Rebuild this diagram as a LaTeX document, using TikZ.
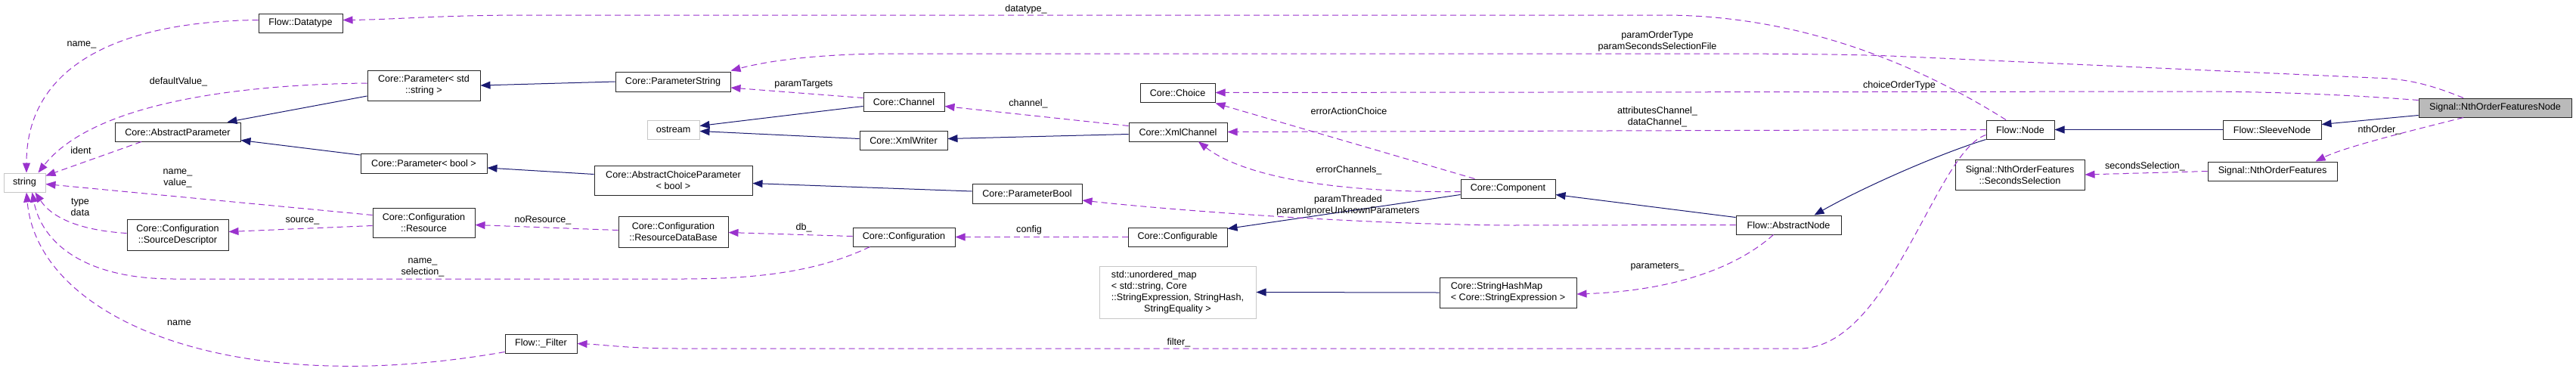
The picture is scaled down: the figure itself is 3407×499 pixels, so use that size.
\documentclass[tikz,border=0pt]{standalone}
\usepackage{fontspec}
\setmainfont{Liberation Sans}
\usepackage{tikz}
\usetikzlibrary{arrows.meta,calc}
\definecolor{inhblue}{HTML}{191970}
\definecolor{usepurple}{HTML}{9A32CD}
\newcommand{\classfont}{\fontsize{12.6}{15}\selectfont}

\begin{document}
\begin{tikzpicture}[x=1pt,y=-1pt,>={Triangle[length=13pt,width=10pt]},font=\classfont,
    cls/.style={draw=black!85,line width=1pt,fill=white,inner sep=0pt,minimum height=25,align=center},
    extcls/.style={cls,draw=black!22},
    maincls/.style={cls,fill=black!27},
    inh/.style={->,draw=inhblue,line width=1pt},
    use/.style={->,draw=usepurple,line width=1pt,dash pattern=on 8pt off 5pt},
    lbl/.style={inner sep=0pt,align=center}]

\useasboundingbox (0,0) rectangle (3407,499);

% classes, left part
\node[extcls,minimum width=55] (str) at (32.5,241.5) {string};

\node[cls,minimum width=111] (dtype) at (397.5,30.5) {Flow::Datatype};

\node[cls,minimum width=166] (aparam) at (235,174.5) {Core::AbstractParameter};

\node[cls,minimum width=134,minimum height=41] (srcd) at (235,310.5)
    {Core::Configuration\\::SourceDescriptor};

\node[cls,minimum width=149,minimum height=40] (pstd) at (560.5,113)
    {Core::Parameter< std\\::string >};

\node[cls,minimum width=167,minimum height=26] (pbool) at (560.5,216) {Core::Parameter< bool >};

\node[cls,minimum width=135,minimum height=39] (res) at (560.5,294.5)
    {Core::Configuration\\::Resource};

\node[cls,minimum width=152,minimum height=26] (pstring) at (890,108) {Core::ParameterString};

\node[extcls,minimum width=69] (ostr) at (890.5,171.5) {ostream};

\node[cls,minimum width=209,minimum height=39] (acp) at (890.5,238.5)
    {Core::AbstractChoiceParameter\\< bool >};

\node[cls,minimum width=145,minimum height=41] (rdb) at (890.5,306.5)
    {Core::Configuration\\::ResourceDataBase};

\node[cls,minimum width=95] (filter) at (715.5,454.5) {Flow::\_Filter};

% classes, middle part
\node[cls,minimum width=107] (chan) at (1195.5,134.5) {Core::Channel};

\node[cls,minimum width=116] (xwriter) at (1195,185.5) {Core::XmlWriter};

\node[cls,minimum width=135] (config) at (1195.5,313.5) {Core::Configuration};

\node[cls,minimum width=145,minimum height=26] (pboolc) at (1358.5,256) {Core::ParameterBool};

\node[cls,minimum width=99] (choice) at (1557.5,122.5) {Core::Choice};

\node[cls,minimum width=130] (xchan) at (1558,174.5) {Core::XmlChannel};

\node[cls,minimum width=131] (cfgable) at (1557.5,313.5) {Core::Configurable};

\node[extcls,minimum width=207,minimum height=69] (umap) at (1557.5,386.5)
    {\begin{tabular}{@{}l@{}}std::unordered\_map\\< std::string, Core\\::StringExpression, StringHash,\\
     \multicolumn{1}{@{}c@{}}{StringEquality >}\end{tabular}};

\node[cls,minimum width=125] (comp) at (1994.5,249.5) {Core::Component};

\node[cls,minimum width=181,minimum height=40,align=left] (shm) at (1994.5,387)
    {Core::StringHashMap\\< Core::StringExpression >};

% classes, right part
\node[cls,minimum width=139] (anode) at (2365.5,297.5) {Flow::AbstractNode};

\node[cls,minimum width=90] (fnode) at (2672,171.5) {Flow::Node};

\node[cls,minimum width=171,minimum height=40] (secsel) at (2671.5,231)
    {Signal::NthOrderFeatures\\::SecondsSelection};

\node[cls,minimum width=130] (sleeve) at (3005,171.5) {Flow::SleeveNode};

\node[cls,minimum width=171] (nof) at (3005.5,226.5) {Signal::NthOrderFeatures};

\node[maincls,minimum width=202] (nofn) at (3300,142.5) {Signal::NthOrderFeaturesNode};

% inheritance
\draw[inh] ($(pstd.west)+(0,14)$) -- ($(aparam.north east)+(-18,0)$);

\draw[inh] ($(pbool.west)+(0,-11)$) -- ($(aparam.east)+(0,11)$);

\draw[inh] (pstring.west) -- (pstd.east);

\draw[inh] ($(acp.west)+(0,-8)$) -- ($(pbool.east)+(0,6)$);

\draw[inh] ($(chan.west)+(0,6)$) -- ($(ostr.east)+(0,-5)$);

\draw[inh] ($(xwriter.west)+(0,-2)$) -- ($(ostr.east)+(0,2)$);

\draw[inh] ($(pboolc.west)+(0,-3)$) -- ($(acp.east)+(0,4)$);

\draw[inh] ($(xchan.west)+(0,3)$) -- ($(xwriter.east)+(0,-2)$);

\draw[inh] ($(comp.west)+(0,8)$) -- ($(cfgable.north east)+(0,2)$);

\draw[inh] ($(anode.west)+(0,-10)$) -- ($(comp.east)+(0,8)$);

\draw[inh] (fnode.south west) .. controls (2560,205) and (2460,250) .. ($(anode.north)+(34,0)$);

\draw[inh] (sleeve.west) -- (fnode.east);

\draw[inh] ($(nofn.west)+(0,10)$) -- ($(sleeve.east)+(0,-7)$);

\draw[inh] (shm.west) -- (umap.east);

% members pointing at string
\draw[use] ($(dtype.west)+(0,-4)$) .. controls (170,28) and (35,80) .. ($(str.north)+(2.5,0)$);
\node[lbl] (lname) at (108,59) {name\_};

\draw[use] ($(pstd.west)+(0,-3)$) .. controls (300,112) and (120,140) .. ($(str.north east)+(-10,0)$);
\node[lbl] (ldefault) at (236,108) {defaultValue\_};

\draw[use] ($(aparam.south)+(-48,0)$) -- ($(str.east)+(0,-9)$);
\node[lbl] (lident) at (107,199) {ident};

\draw[use] ($(res.west)+(0,-10)$) -- ($(str.east)+(0,2)$);
\node[lbl] (lnamevalue) at (235,235.5) {name\_\\value\_};

\draw[use] ($(srcd.west)+(0,-2)$) .. controls (110,305) and (70,290) .. ($(str.south east)+(-14,0)$);
\node[lbl] (ltypedata) at (106,274) {type\\data};

\draw[use] ($(config.south west)+(23,0)$) .. controls (1080,360) and (1000,369) .. (900,369)
    -- (230,369) .. controls (110,369) and (55,320) .. ($(str.south east)+(-18,0)$);
\node[lbl] (lselection) at (559,354) {name\_\\selection\_};

\draw[use] ($(filter.south west)+(0,-2)$) .. controls (300,530) and (50,420) .. ($(str.south)+(2.5,0)$);
\node[lbl] (lfname) at (237,427) {name};

% members, left part
\draw[use] ($(res.west)+(0,4)$) -- ($(srcd.east)+(0,-4)$);
\node[lbl] (lsource) at (400,292) {source\_};

\draw[use] ($(rdb.west)+(0,-2)$) -- ($(res.east)+(0,3)$);
\node[lbl] (lnores) at (718,291) {noResource\_};

\draw[use] ($(config.west)+(0,-1)$) -- ($(rdb.east)+(0,1)$);
\node[lbl] (ldb) at (1063,301) {db\_};

\draw[use] ($(chan.west)+(0,-5)$) -- ($(pstring.east)+(0,8)$);
\node[lbl] (ltargets) at (1063,111) {paramTargets};

\draw[use] ($(xchan.west)+(0,-8)$) -- ($(chan.east)+(0,6)$);
\node[lbl] (lchannel) at (1360,137) {channel\_};

\draw[use] (cfgable.west) -- (config.east);
\node[lbl] (lconfig) at (1361,304) {config};

% members of the component and the nodes
\draw[use] ($(comp.north)+(-44,0)$) -- ($(choice.south east)+(0,1)$);
\node[lbl] (lerrchoice) at (1784,147) {errorActionChoice};

\draw[use] ($(comp.west)+(0,4)$) .. controls (1750,255) and (1640,230) .. ($(xchan.south)+(27,0)$);
\node[lbl] (lerrchan) at (1784,225) {errorChannels\_};

\draw[use] (anode.west) -- (2000,298) .. controls (1800,297) and (1550,278) .. ($(pboolc.east)+(0,9)$);
\node[lbl] (lthreaded) at (1783,271.5) {paramThreaded\\paramIgnoreUnknownParameters};

\draw[use] ($(anode.south)+(-20,0)$) .. controls (2290,360) and (2200,385) .. ($(shm.east)+(0,2)$);
\node[lbl] (lparams) at (2192,353) {parameters\_};

\draw[use] (fnode.west) -- (xchan.east);
\node[lbl] (ldatachan) at (2192,155) {attributesChannel\_\\dataChannel\_};

\draw[use] ($(fnode.north)+(-19,0)$) .. controls (2560,100) and (2400,20) .. (2200,20)
    -- (700,20) .. controls (580,20) and (520,26) .. ($(dtype.east)+(0,-4)$);
\node[lbl] (ldatatype) at (1357,12) {datatype\_};

\draw[use] ($(fnode.west)+(0,7)$) .. controls (2560,200) and (2500,461) .. (2380,461)
    -- (900,461) .. controls (830,461) and (800,456) .. (filter.east);
\node[lbl] (lfilter) at (1559,453) {filter\_};

% members of the features node
\draw[use] ($(nofn.north)+(-42,0)$) .. controls (3210,110) and (3180,104) .. (3140,103)
    -- (2500,74) .. controls (2420,71) and (2300,71) .. (2200,71)
    -- (1170,71) .. controls (1070,72) and (1010,82) .. ($(pstring.north east)+(0,-1)$);
\node[lbl] (lordertype) at (2192,55) {paramOrderType\\paramSecondsSelectionFile};

\draw[use] ($(nofn.west)+(0,-10)$) .. controls (3100,125) and (3000,121) .. (2900,121) -- (choice.east);
\node[lbl] (lchoiceorder) at (2512,113) {choiceOrderType};

\draw[use] ($(nofn.south)+(-42,0)$) .. controls (3180,175) and (3100,195) .. ($(nof.north)+(57,0)$);
\node[lbl] (lnth) at (3147,172) {nthOrder\_};

\draw[use] (nof.west) -- (secsel.east);
\node[lbl] (lsecsel) at (2837,220) {secondsSelection\_};

\end{tikzpicture}
\end{document}
